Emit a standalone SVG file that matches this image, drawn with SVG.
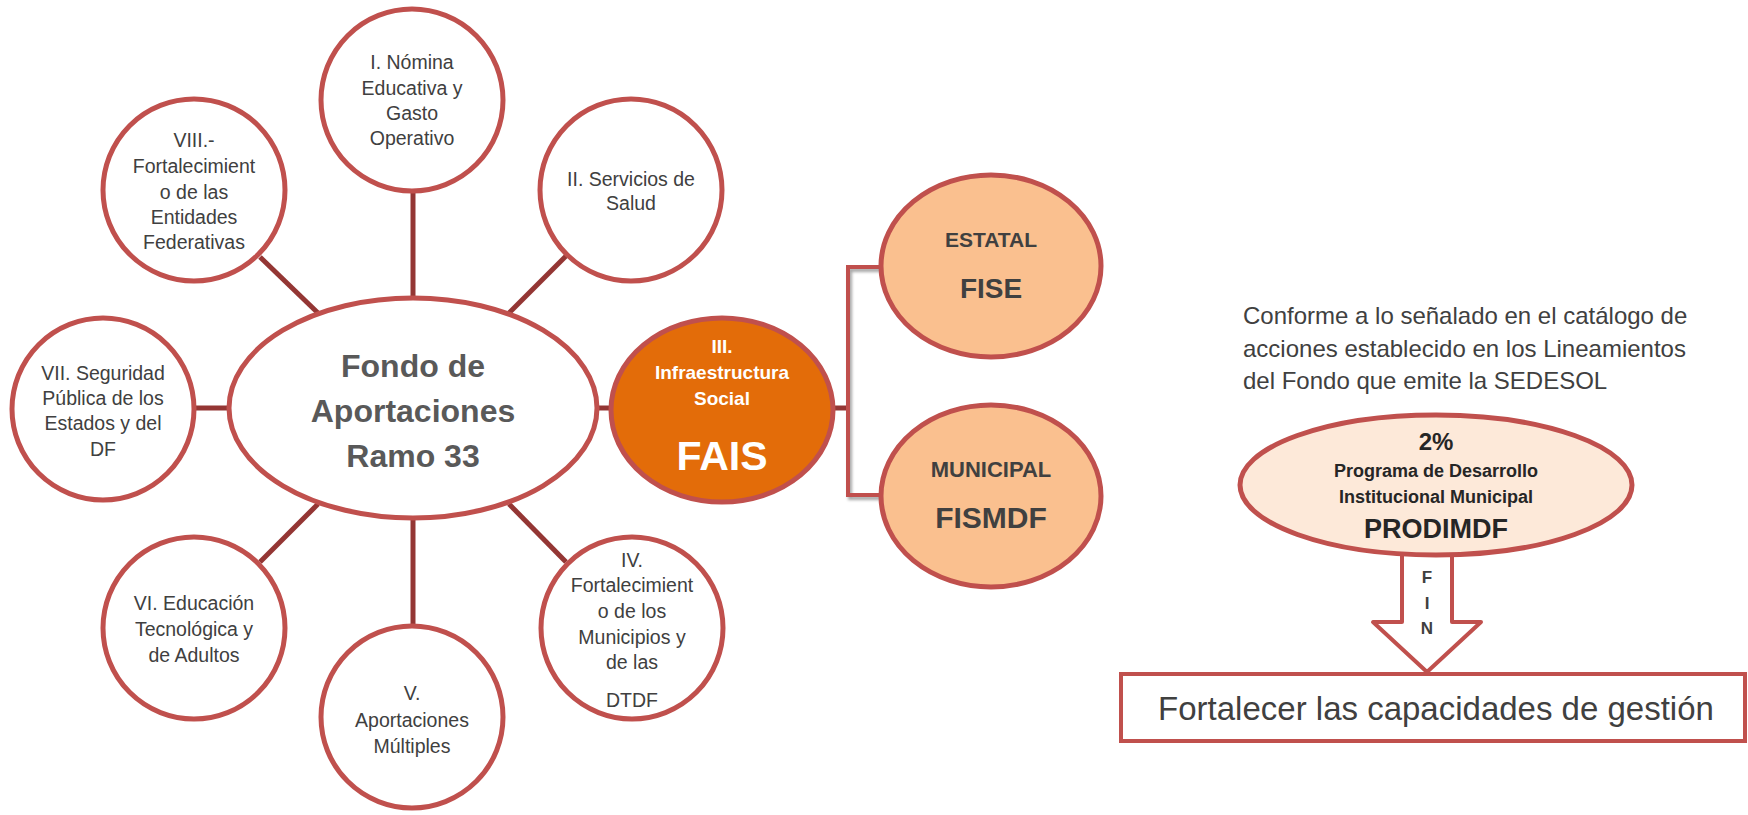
<svg xmlns="http://www.w3.org/2000/svg" width="1748" height="815" viewBox="0 0 1748 815">
<defs>
<style>
.c{fill:#fff;stroke:#C0504D;stroke-width:5}
.t{font-family:"Liberation Sans",Arial,sans-serif;font-size:19.5px;fill:#404040;text-anchor:middle}
.b{font-family:"Liberation Sans",Arial,sans-serif;font-weight:bold;text-anchor:middle}
.k{stroke:#943634;stroke-width:5;fill:none}
.r{stroke:#C0504D;stroke-width:4;fill:none}
</style>
<filter id="sh" x="-20%" y="-20%" width="140%" height="140%">
<feDropShadow dx="2" dy="3" stdDeviation="1.5" flood-color="#000" flood-opacity="0.35"/>
</filter>
</defs>
<rect width="1748" height="815" fill="#fff"/>
<g id="connectors">
<line class="k" x1="413" y1="192" x2="413" y2="300"/>
<line class="k" x1="260" y1="257" x2="318" y2="313"/>
<line class="k" x1="566" y1="256" x2="509" y2="313"/>
<line class="k" x1="195" y1="408" x2="231" y2="408"/>
<line class="k" x1="595" y1="408" x2="612" y2="408"/>
<line class="k" x1="260" y1="562" x2="318" y2="504"/>
<line class="k" x1="413" y1="517" x2="413" y2="627"/>
<line class="k" x1="509" y1="504" x2="566" y2="562"/>
<line class="k" x1="833" y1="408" x2="848" y2="408"/>
<polyline class="r" filter="url(#sh)" points="881,267 848,267 848,495 881,495"/>
<line class="r" filter="url(#sh)" x1="1101" y1="494" x2="1241" y2="494"/>
</g>
<g id="n-main">
<ellipse class="c" cx="413" cy="408" rx="184" ry="110"/>
<text class="b" font-size="32" fill="#595959"><tspan x="413" y="377">Fondo de</tspan><tspan x="413" y="422">Aportaciones</tspan><tspan x="413" y="467">Ramo 33</tspan></text>
</g>
<g id="n-i">
<circle class="c" cx="412" cy="100" r="91"/>
<text class="t"><tspan x="412" y="69">I. Nómina</tspan><tspan x="412" y="95">Educativa y</tspan><tspan x="412" y="120">Gasto</tspan><tspan x="412" y="145">Operativo</tspan></text>
</g>
<g id="n-ii">
<circle class="c" cx="631" cy="190" r="91"/>
<text class="t"><tspan x="631" y="186">II. Servicios de</tspan><tspan x="631" y="210">Salud</tspan></text>
</g>
<g id="n-viii">
<circle class="c" cx="194" cy="190" r="91"/>
<text class="t"><tspan x="194" y="147">VIII.-</tspan><tspan x="194" y="173">Fortalecimient</tspan><tspan x="194" y="199">o de las</tspan><tspan x="194" y="224">Entidades</tspan><tspan x="194" y="249">Federativas</tspan></text>
</g>
<g id="n-vii">
<circle class="c" cx="103" cy="409" r="91"/>
<text class="t"><tspan x="103" y="380">VII. Seguridad</tspan><tspan x="103" y="405">Pública de los</tspan><tspan x="103" y="430">Estados y del</tspan><tspan x="103" y="456">DF</tspan></text>
</g>
<g id="n-vi">
<circle class="c" cx="194" cy="628" r="91"/>
<text class="t"><tspan x="194" y="610">VI. Educación</tspan><tspan x="194" y="636">Tecnológica y</tspan><tspan x="194" y="662">de Adultos</tspan></text>
</g>
<g id="n-v">
<circle class="c" cx="412" cy="717" r="91"/>
<text class="t"><tspan x="412" y="700">V.</tspan><tspan x="412" y="727">Aportaciones</tspan><tspan x="412" y="753">Múltiples</tspan></text>
</g>
<g id="n-iv">
<circle class="c" cx="632" cy="628" r="91"/>
<text class="t"><tspan x="632" y="567">IV.</tspan><tspan x="632" y="592">Fortalecimient</tspan><tspan x="632" y="618">o de los</tspan><tspan x="632" y="644">Municipios y</tspan><tspan x="632" y="669">de las</tspan><tspan x="632" y="707">DTDF</tspan></text>
</g>
<g id="n-fais">
<ellipse cx="722" cy="410" rx="111" ry="92" fill="#E36C09" stroke="#C0504D" stroke-width="5"/>
<text class="b" font-size="19" fill="#fff"><tspan x="722" y="353">III.</tspan><tspan x="722" y="379">Infraestructura</tspan><tspan x="722" y="405">Social</tspan></text>
<text class="b" font-size="41" fill="#fff" x="722" y="470">FAIS</text>
</g>
<g id="n-estatal">
<ellipse cx="991" cy="266" rx="110" ry="91" fill="#FAC08F" stroke="#C0504D" stroke-width="5"/>
<text class="b" font-size="21" fill="#404040" x="991" y="247">ESTATAL</text>
<text class="b" font-size="28" fill="#404040" x="991" y="298">FISE</text>
</g>
<g id="n-municipal">
<ellipse cx="991" cy="496" rx="110" ry="91" fill="#FAC08F" stroke="#C0504D" stroke-width="5"/>
<text class="b" font-size="22" fill="#404040" x="991" y="477">MUNICIPAL</text>
<text class="b" font-size="30" fill="#404040" x="991" y="528">FISMDF</text>
</g>
<g id="n-note">
<text font-family="Liberation Sans, Arial, sans-serif" font-size="24" fill="#404040"><tspan x="1243" y="324">Conforme a lo señalado en el catálogo de</tspan><tspan x="1243" y="357">acciones establecido en los Lineamientos</tspan><tspan x="1243" y="389">del Fondo que emite la SEDESOL</tspan></text>
</g>
<g id="n-arrow">
<polygon points="1402,548 1452,548 1452,622 1481,622 1427,672 1373,622 1402,622" fill="#fff" stroke="#C0504D" stroke-width="4" stroke-linejoin="round"/>
<text class="b" font-size="17" fill="#404040"><tspan x="1427" y="583">F</tspan><tspan x="1427" y="609">I</tspan><tspan x="1427" y="634">N</tspan></text>
</g>
<g id="n-prodimdf">
<ellipse cx="1436" cy="485" rx="196" ry="70" fill="#FDE9D9" stroke="#C0504D" stroke-width="5"/>
<text class="b" font-size="24" fill="#262626" x="1436" y="450">2%</text>
<text class="b" font-size="18" fill="#262626"><tspan x="1436" y="477">Programa de Desarrollo</tspan><tspan x="1436" y="503">Institucional Municipal</tspan></text>
<text class="b" font-size="27" fill="#262626" x="1436" y="538">PRODIMDF</text>
</g>
<g id="n-goal">
<rect x="1121" y="674" width="624" height="67" fill="#fff" stroke="#C0504D" stroke-width="4"/>
<text font-family="Liberation Sans, Arial, sans-serif" font-size="33" fill="#404040" text-anchor="middle" x="1436" y="720">Fortalecer las capacidades de gestión</text>
</g>
</svg>
